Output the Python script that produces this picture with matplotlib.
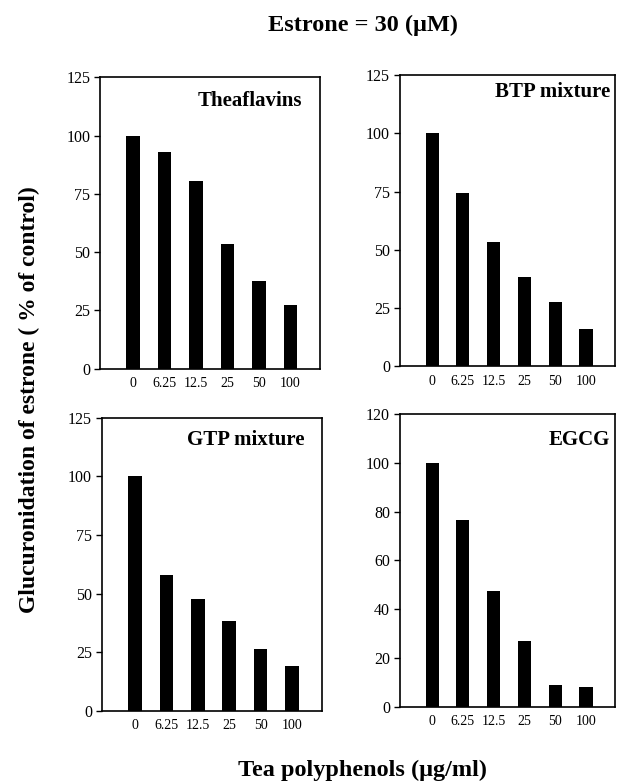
import matplotlib
matplotlib.use("Agg")
import matplotlib.pyplot as plt

categories = ["0", "6.25", "12.5", "25", "50", "100"]
theaflavins = [100, 93, 80.5, 53.5, 37.5, 27.5]
btp_mixture = [100, 74.5, 53.5, 38.5, 27.5, 16]
gtp_mixture = [100, 58, 47.5, 38.5, 26.5, 19]
egcg = [100, 76.5, 47.5, 27, 9, 8]

panels = [
    ("Theaflavins", theaflavins, [0, 25, 50, 75, 100, 125], 125),
    ("BTP mixture", btp_mixture, [0, 25, 50, 75, 100, 125], 125),
    ("GTP mixture", gtp_mixture, [0, 25, 50, 75, 100, 125], 125),
    ("EGCG", egcg, [0, 20, 40, 60, 80, 100, 120], 120),
]

# [left, bottom, width, height] in figure fractions
positions = [
    [0.162, 0.528, 0.357, 0.373],
    [0.648, 0.531, 0.349, 0.373],
    [0.165, 0.090, 0.357, 0.375],
    [0.648, 0.095, 0.349, 0.375],
]
label_pos = [(0.92, 0.918), (0.977, 0.94), (0.918, 0.925), (0.977, 0.911)]

plt.rcParams['font.family'] = ['Liberation Serif', 'DejaVu Serif']
fig = plt.figure(figsize=(6.17, 7.81), dpi=100)

for (name, vals, ticks, ymax), pos, lp in zip(panels, positions, label_pos):
    ax = fig.add_axes(pos)
    x = list(range(len(categories)))
    ax.bar(x, vals, width=0.43, color="black")
    ax.set_xlim(-1.05, 5.95)
    ax.set_ylim(0, ymax)
    ax.set_yticks(ticks)
    ax.set_yticklabels([str(t) for t in ticks], fontsize=11.5)
    ax.set_xticks(x)
    ax.set_xticklabels(categories, fontsize=10)
    ax.tick_params(axis="x", length=0, pad=6)
    ax.tick_params(axis="y", direction="out", length=4, width=1, pad=3)
    for s in ax.spines.values():
        s.set_linewidth(1.2)
    ax.text(lp[0], lp[1], name, transform=ax.transAxes, ha="right", va="center",
            fontsize=15, fontweight="bold")

fig.text(0.588, 0.967, "Estrone = 30 (\u03bcM)", ha="center", va="center",
         fontsize=17.5, fontweight="bold")
fig.text(0.588, 0.013, "Tea polyphenols (\u03bcg/ml)", ha="center", va="center",
         fontsize=17.5, fontweight="bold")
fig.text(0.048, 0.488, "Glucuronidation of estrone ( % of control)", ha="center",
         va="center", rotation=90, fontsize=17, fontweight="bold")

fig.savefig("out.png", dpi=100)
